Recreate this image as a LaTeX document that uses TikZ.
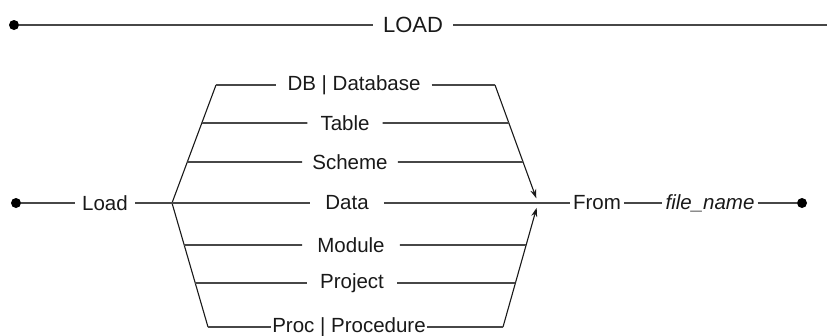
\documentclass[tikz,border=0pt]{standalone}
\usepackage{fontspec}
\setmainfont{Liberation Sans}
\usetikzlibrary{calc,arrows.meta}
\begin{document}
\begin{tikzpicture}[x=1pt,y=-1pt,
  lbl/.style={inner ysep=2pt, inner xsep=#1, text=black!90, font=\fontsize{20.5}{24}\selectfont},
  lbl/.default=8pt,
  hline/.style={draw=black!72, line width=1.8pt},
  dline/.style={draw=black!90, line width=1.1pt},
  arr/.style={-{Stealth[length=9pt,width=6pt]}, shorten >=5pt},
  dot/.style={circle, fill=black, inner sep=0pt, minimum size=10pt}]
\useasboundingbox (0,0) rectangle (827,335);

% top line
\node[dot] (dotT) at (14,25) {};
\node[lbl=10pt, font=\fontsize{22}{26}\selectfont] (LOAD) at (413,25) {LOAD};
\coordinate (endT) at (827,25);
\draw[hline] (dotT) -- (LOAD) -- (endT);

% main line nodes
\node[dot] (dotL) at (16,203) {};
\node[lbl=7pt] (Load) at (105,203) {Load};
\coordinate (L) at (172,203);
\coordinate (R) at (538,203);
\coordinate (TL) at (216,85);
\coordinate (BL) at (208,327);
\coordinate (TR) at (495,85);
\coordinate (BR) at (503,327);

\node[lbl=11pt] (DB) at (354,85) {DB | Database};
\node[lbl=13pt] (Table) at (345,123) {Table};
\node[lbl=10pt] (Scheme) at (350,162) {Scheme};
\node[lbl=15pt] (Data) at (347,203) {Data};
\node[lbl=15pt] (Module) at (351,245) {Module};
\node[lbl=13pt] (Project) at (352,283) {Project};
\node[lbl=1pt] (Proc) at (349,327) {Proc | Procedure};
\node[lbl=3pt] (From) at (597,203) {From};
\node[lbl=3pt, font=\fontsize{20.5}{24}\selectfont\itshape] (fname) at (710,203) {file\_name};
\node[dot] (dotR) at (802,203) {};

% crossing points on the diagonals
\coordinate (tl1) at ($(L)!0.678!(TL)$);
\coordinate (tr1) at ($(R)!0.678!(TR)$);
\coordinate (tl2) at ($(L)!0.347!(TL)$);
\coordinate (tr2) at ($(R)!0.347!(TR)$);
\coordinate (bl1) at ($(L)!0.339!(BL)$);
\coordinate (br1) at ($(R)!0.339!(BR)$);
\coordinate (bl2) at ($(L)!0.645!(BL)$);
\coordinate (br2) at ($(R)!0.645!(BR)$);

% diagonals
\draw[dline] (L) -- (TL);
\draw[dline] (L) -- (BL);
\draw[dline, arr] (TR) -- (R);
\draw[dline, arr] (BR) -- (R);

% horizontal branches
\draw[hline] (TL) -- (DB) -- (TR);
\draw[hline] (tl1) -- (Table) -- (tr1);
\draw[hline] (tl2) -- (Scheme) -- (tr2);
\draw[hline] (bl1) -- (Module) -- (br1);
\draw[hline] (bl2) -- (Project) -- (br2);
\draw[hline] (BL) -- (Proc) -- (BR);

% main line
\draw[hline] (dotL) -- (Load) -- (L) -- (Data) -- (R) -- (From) -- (fname) -- (dotR);
\end{tikzpicture}
\end{document}
